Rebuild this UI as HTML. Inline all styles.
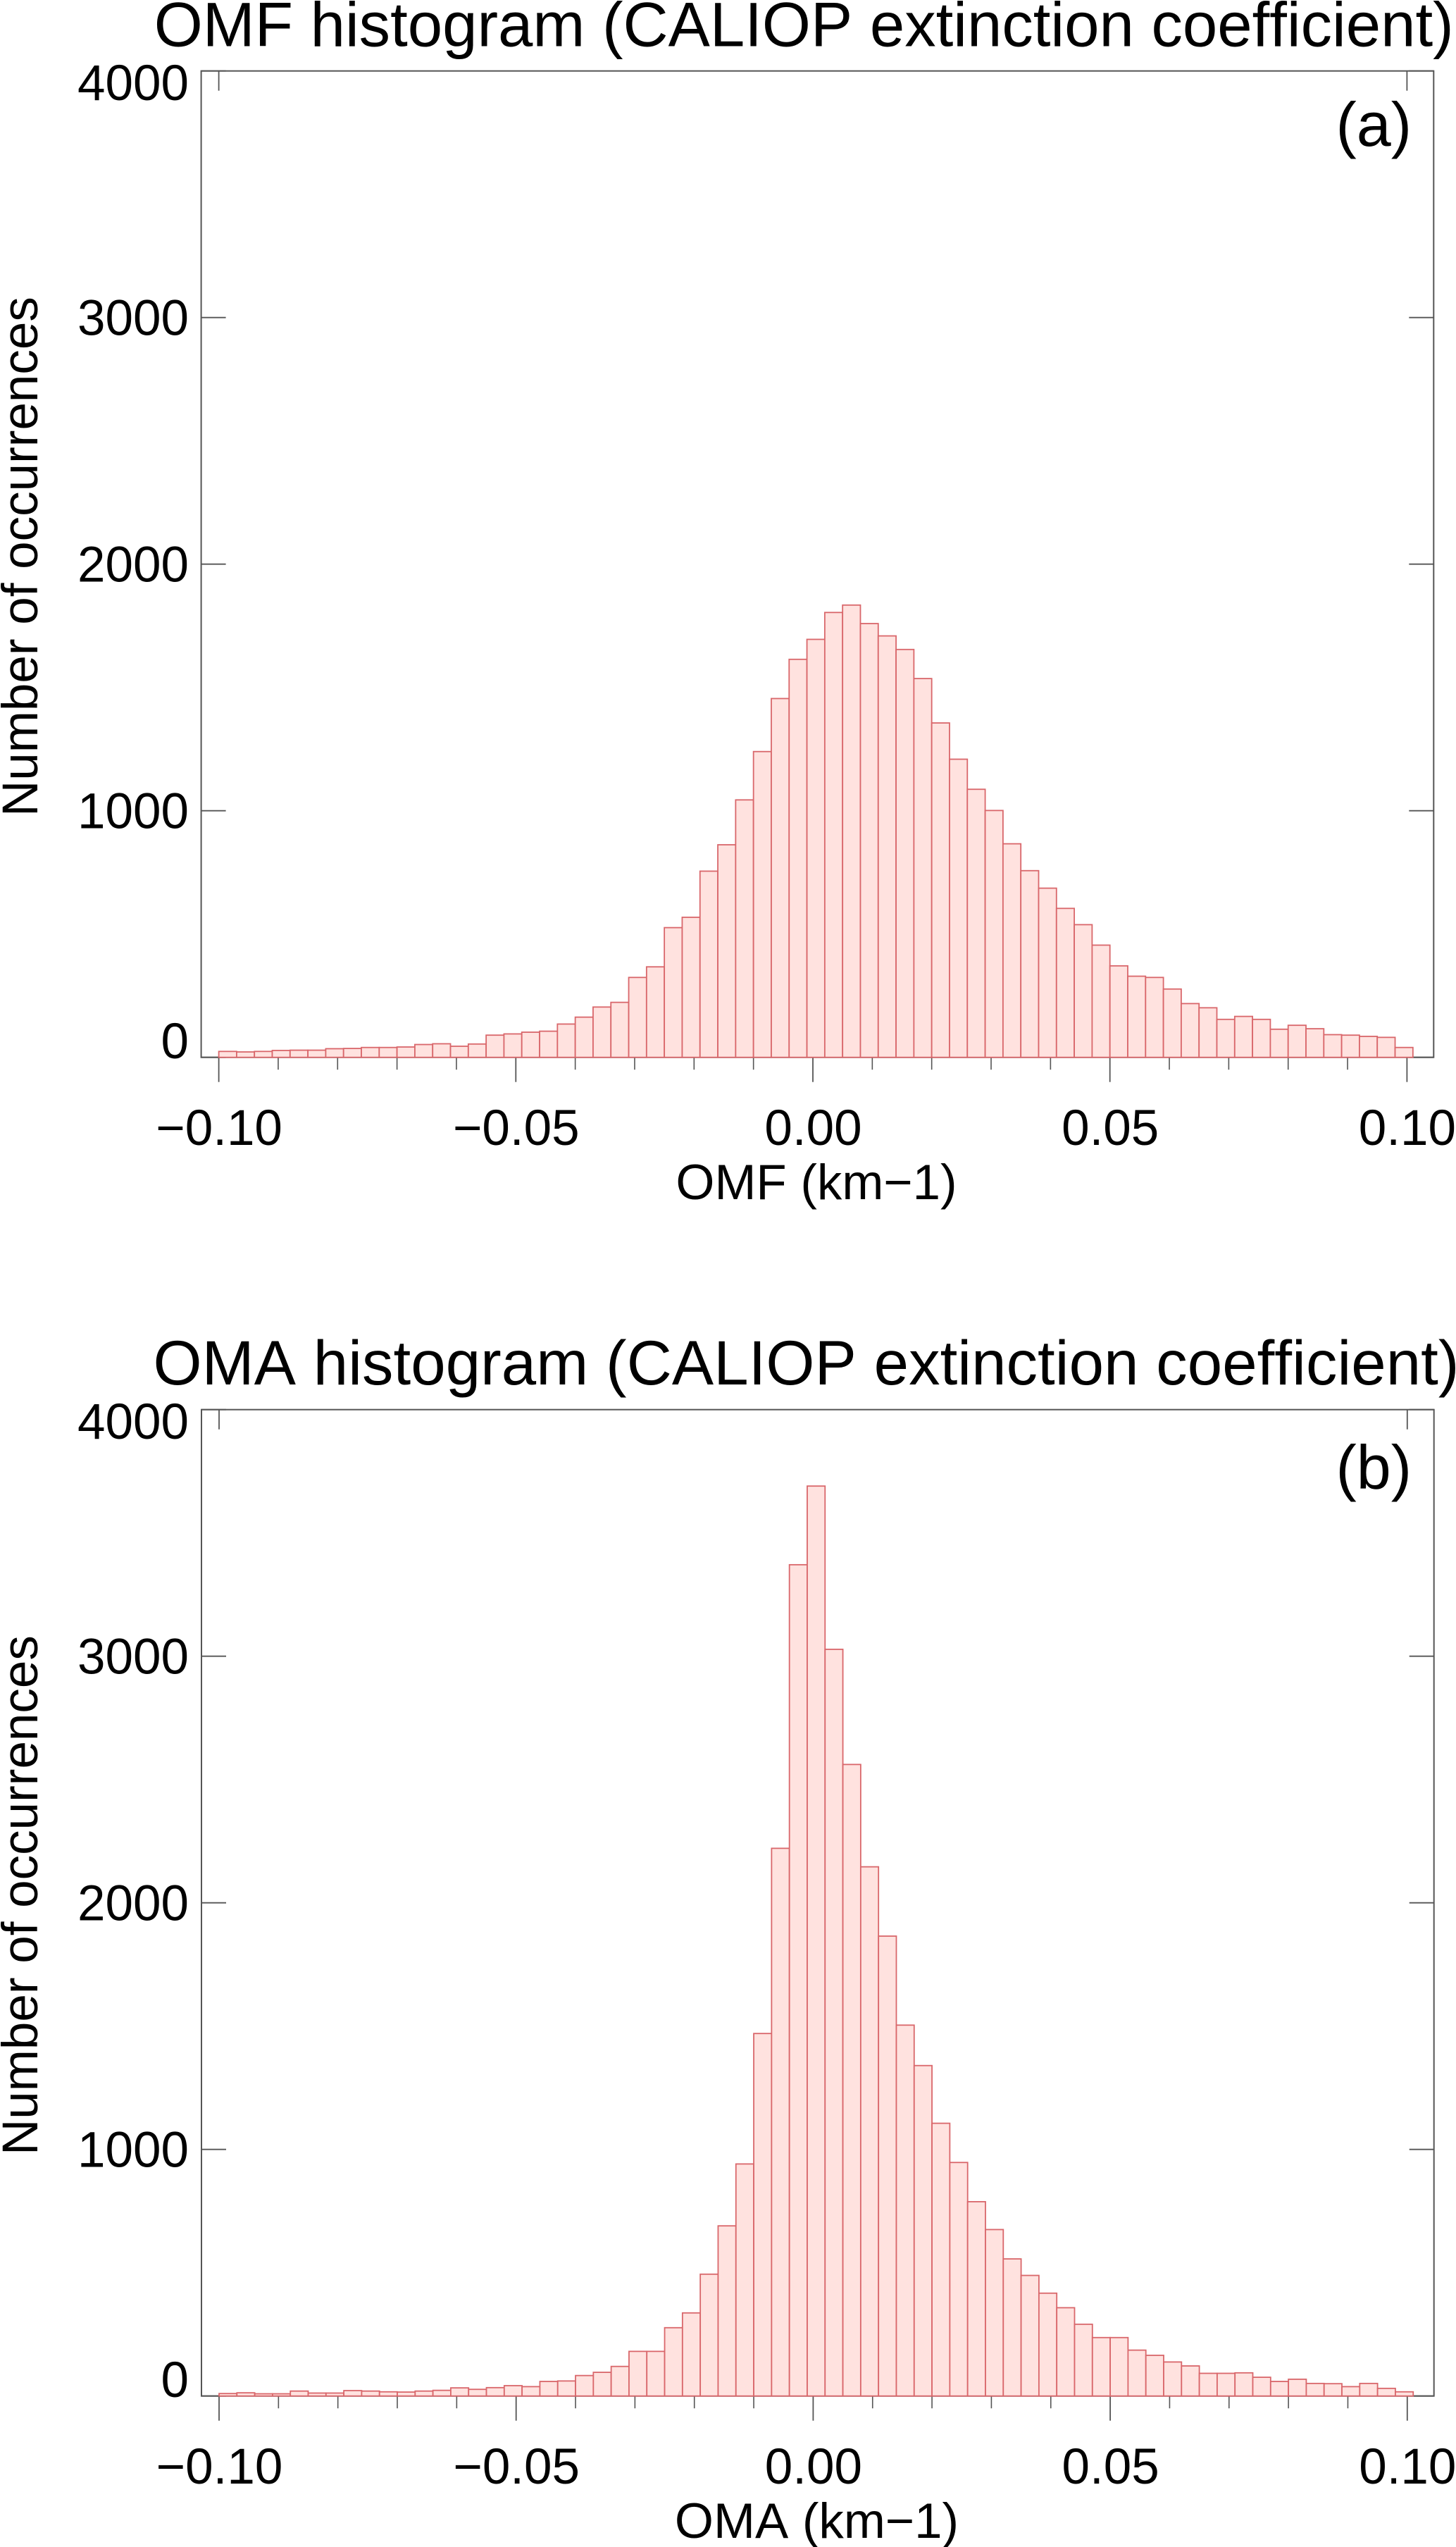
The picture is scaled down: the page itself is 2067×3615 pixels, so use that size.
<!DOCTYPE html>
<html lang="en">
<head>
<meta charset="utf-8">
<title>OMF and OMA histograms (CALIOP extinction coefficient)</title>
<style>
  html, body { margin: 0; padding: 0; background: #fff; }
  svg { display: block; }
  text { font-family: "Liberation Sans", Arial, sans-serif; fill: #000; font-kerning: none; font-variant-ligatures: none; }
</style>
</head>
<body>
<svg id="figure" xmlns="http://www.w3.org/2000/svg" width="2067" height="3615" viewBox="0 0 2067 3615">
  <rect x="0" y="0" width="2067" height="3615" fill="#ffffff"/>

  <g id="panel-a">
    <text x="218.7" y="65.5" font-size="88.8" textLength="1845" lengthAdjust="spacing">OMF histogram (CALIOP extinction coefficient)</text>
    <text x="1896.5" y="207" font-size="88">(a)</text>
    <text x="1159" y="1702" font-size="70.8" text-anchor="middle">OMF (km−1)</text>
    <text transform="translate(53,1159) rotate(-90)" font-size="71">Number of occurrences</text>
  </g>

  <g id="panel-b">
    <text x="217.5" y="1965" font-size="88.8" textLength="1854" lengthAdjust="spacing">OMA histogram (CALIOP extinction coefficient)</text>
    <text x="1896.5" y="2113" font-size="88">(b)</text>
    <text x="1159.5" y="3602" font-size="70.8" text-anchor="middle">OMA (km−1)</text>
    <text transform="translate(53,3059) rotate(-90)" font-size="71">Number of occurrences</text>
  </g>
</svg>

<script>
// Histogram counts (67 bins, 0.003 km-1 wide, starting at -0.10)
const binStart = -0.1;
const binWidth = 0.003;

const omfCounts = [
  24, 22, 24, 28, 29, 29, 35, 36, 40, 40,
  42, 52, 55, 45, 54, 90, 95, 102, 106, 135,
  163, 204, 223, 324, 367, 526, 568, 755, 862, 1044,
  1240, 1455, 1614, 1695, 1804, 1834, 1759, 1709, 1654, 1536,
  1356, 1209, 1087, 1001, 866, 757, 686, 604, 538, 455,
  371, 329, 324, 277, 218, 201, 154, 166, 154, 114,
  130, 116, 92, 90, 85, 81, 40
];

const omaCounts = [
  10, 13, 9, 9, 20, 12, 12, 22, 20, 17,
  16, 20, 23, 33, 27, 34, 42, 38, 59, 61,
  83, 96, 120, 181, 181, 277, 337, 494, 690, 941,
  1470, 2221, 3371, 3690, 3028, 2561, 2146, 1865, 1504, 1340,
  1106, 947, 788, 675, 556, 489, 417, 358, 291, 237,
  237, 186, 165, 138, 122, 92, 92, 94, 76, 59,
  68, 51, 50, 38, 51, 31, 17
];

const xMajorTicks = [-0.1, -0.05, 0, 0.05, 0.1];
const xTickLabels = ["\u22120.10", "\u22120.05", "0.00", "0.05", "0.10"];
const xMinorTicks = [-0.09, -0.08, -0.07, -0.06, -0.04, -0.03, -0.02, -0.01, 0.01, 0.02, 0.03, 0.04, 0.06, 0.07, 0.08, 0.09];
const xTopTicks = [-0.1, 0.1];
const yTicks = [0, 1000, 2000, 3000, 4000];
const yTickLabels = ["0", "1000", "2000", "3000", "4000"];

const SVG_NS = "http://www.w3.org/2000/svg";
const AXIS_COLOR = "#555555";
const BAR_FILL = "#ffe2df";
const BAR_STROKE = "#d9676b";

function line(parent, x1, y1, x2, y2, width) {
  const el = document.createElementNS(SVG_NS, "line");
  el.setAttribute("x1", x1);
  el.setAttribute("y1", y1);
  el.setAttribute("x2", x2);
  el.setAttribute("y2", y2);
  el.setAttribute("stroke", AXIS_COLOR);
  el.setAttribute("stroke-width", width);
  parent.appendChild(el);
  return el;
}

function label(parent, x, y, anchor, content) {
  const el = document.createElementNS(SVG_NS, "text");
  el.setAttribute("x", x);
  el.setAttribute("y", y);
  el.setAttribute("font-size", "71");
  el.setAttribute("text-anchor", anchor);
  el.textContent = content;
  parent.appendChild(el);
  return el;
}

function drawPanel(parent, counts, prefix, offsetY, xShift) {
  const left = 285.6 + xShift;
  const right = 2035.3 + xShift;
  const top = 100.7 + offsetY;
  const bottom = 1500.7 + offsetY;

  const xScale = v => 1154 + xShift + v * 8434;
  const yScale = v => bottom - (v / 4000) * (bottom - top);

  const axes = document.createElementNS(SVG_NS, "g");
  
  
  parent.appendChild(axes);

  const frame = document.createElementNS(SVG_NS, "rect");
  
  
  frame.setAttribute("x", left);
  frame.setAttribute("y", top);
  frame.setAttribute("width", right - left);
  frame.setAttribute("height", bottom - top);
  frame.setAttribute("fill", "none");
  frame.setAttribute("stroke", AXIS_COLOR);
  frame.setAttribute("stroke-width", "2");
  axes.appendChild(frame);

  const bars = document.createElementNS(SVG_NS, "g");
  
  
  parent.appendChild(bars);

  counts.forEach((count, i) => {
    const x0 = xScale(binStart + i * binWidth);
    const x1 = xScale(binStart + (i + 1) * binWidth);
    const y = yScale(count);
    const bar = document.createElementNS(SVG_NS, "rect");
    
    
    bar.setAttribute("x", x0);
    bar.setAttribute("y", y);
    bar.setAttribute("width", x1 - x0);
    bar.setAttribute("height", bottom - y);
    bar.setAttribute("fill", BAR_FILL);
    bar.setAttribute("stroke", BAR_STROKE);
    bar.setAttribute("stroke-width", "1.8");
    bars.appendChild(bar);
  });

  xMajorTicks.forEach((v, i) => {
    const x = xScale(v);
    const tick = line(axes, x, bottom, x, bottom + 35, 1.8);
    
    
    const text = label(axes, x + 0.5, 1625 + offsetY, "middle", xTickLabels[i]);
    
    
  });

  xMinorTicks.forEach(v => {
    const x = xScale(v);
    const tick = line(axes, x, bottom, x, bottom + 17.5, 1.6);
    
    
  });

  xTopTicks.forEach(v => {
    const x = xScale(v);
    const tick = line(axes, x, top, x, top + 28, 1.8);
    
    
  });

  yTicks.forEach((v, i) => {
    const y = yScale(v);
    const leftTick = line(axes, left, y, left + 35, y, 1.8);
    
    
    const rightTick = line(axes, right - 35, y, right, y, 1.8);
    
    
    // End labels are pulled inside the axis range, as in the original figure
    const baseline = Math.min(Math.max(y + 25, top + 41.5), bottom + 1.5);
    const text = label(axes, 268, baseline, "end", yTickLabels[i]);
    
    
  });
}

drawPanel(document.getElementById("panel-a"), omfCounts, "omf", 0, 0);
drawPanel(document.getElementById("panel-b"), omaCounts, "oma", 1900, 0.4);
</script>
</body>
</html>
